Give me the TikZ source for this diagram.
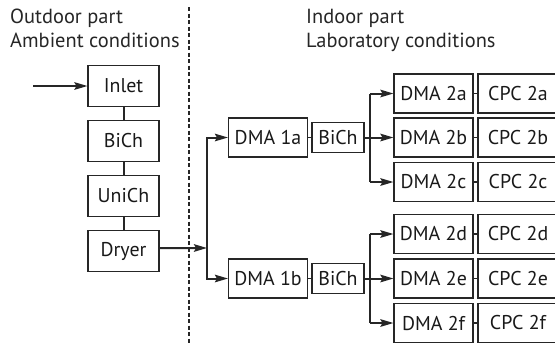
\documentclass[tikz,border=0pt]{standalone}
\usepackage{fontspec}
\setmainfont{PT Sans}
\usetikzlibrary{arrows.meta}
\tikzset{
  bx/.style={draw=black!85, line width=1.1bp, minimum height=41bp, inner sep=0pt, text=black!90, font=\fontsize{20}{22}\selectfont},
  lbx/.style={bx, minimum width=71bp},
  dbx/.style={bx, minimum width=79bp, minimum height=39bp},
  sbx/.style={bx, minimum width=52bp, minimum height=30bp},
  cbx/.style={bx, minimum width=80bp, minimum height=39bp},
  arr/.style={line width=2bp, draw=black!85, -{Stealth[length=13bp,width=7.5bp,inset=2bp]}},
  thick2/.style={line width=2bp, draw=black!85},
  thin2/.style={line width=1.2bp, draw=black!85},
  hdr/.style={anchor=base west, inner sep=0pt, font=\fontsize{20.5}{24}\selectfont, text=black!85}
}
\begin{document}
\begin{tikzpicture}[x=1bp,y=-1bp]
\useasboundingbox (0,0) rectangle (555,345);
% headers
\node[hdr] (h1a) at (10,23) {Outdoor part};
\node[hdr] (h1b) at (10,47) {Ambient conditions};
\node[hdr] (h2a) at (306,23) {Indoor part};
\node[hdr] (h2b) at (306,47) {Laboratory conditions};
% dashed separator
\coordinate (dtop) at (189,7);
\coordinate (dbot) at (189,345);
\draw[line width=1.5bp, dash pattern=on 4bp off 2.5bp, draw=black!85] (dtop) -- (dbot);
% left column
\node[lbx] (inlet) at (123.5,86) {Inlet};
\node[lbx] (bich0) at (123.5,141) {BiCh};
\node[lbx] (unich) at (123.5,196) {UniCh};
\node[lbx] (dryer) at (123.5,251) {Dryer};
\coordinate (in0) at (33,86);
\draw[arr] (in0) -- (inlet.west);
\draw[thick2] (inlet) -- (bich0);
\draw[thick2] (bich0) -- (unich);
\draw[thick2] (unich) -- (dryer);
% first split
\node[dbx] (d1a) at (268,137.5) {DMA 1a};
\node[dbx] (d1b) at (268,278.5) {DMA 1b};
\coordinate (v1t) at (207,137.5);
\coordinate (v1b) at (207,278.5);
\coordinate (dryo) at (207,248);
\draw[arr] ([yshift=3bp]dryer.east) -- (dryo);
\draw[arr] (v1b) -- (v1t) -- (d1a.west);
\draw[arr] (v1t) -- (v1b) -- (d1b.west);
% BiCh units
\node[sbx] (b1a) at (338,137.5) {BiCh};
\node[sbx] (b1b) at (338,278.5) {BiCh};
\draw[thin2] (d1a) -- (b1a);
\draw[thin2] (d1b) -- (b1b);
% second level
\foreach \n/\y in {a/93.5,b/137.5,c/182,d/234,e/278.5,f/323}{
  \node[dbx] (d2\n) at (433.5,\y) {DMA 2\n};
  \node[cbx] (c2\n) at (518,\y) {CPC 2\n};
  \draw[thin2] (d2\n) -- (c2\n);
}
\coordinate (v2t) at (370,93.5);
\coordinate (v2b) at (370,182);
\coordinate (v3t) at (370,234);
\coordinate (v3b) at (370,323);
\draw[thick2] (v2t) -- (v2b);
\draw[thick2] (v3t) -- (v3b);
\draw[arr] (v2t) -- (d2a.west);
\draw[arr] (b1a.east) -- (d2b.west);
\draw[arr] (v2b) -- (d2c.west);
\draw[arr] (v3t) -- (d2d.west);
\draw[arr] (b1b.east) -- (d2e.west);
\draw[arr] (v3b) -- (d2f.west);
\end{tikzpicture}
\end{document}
